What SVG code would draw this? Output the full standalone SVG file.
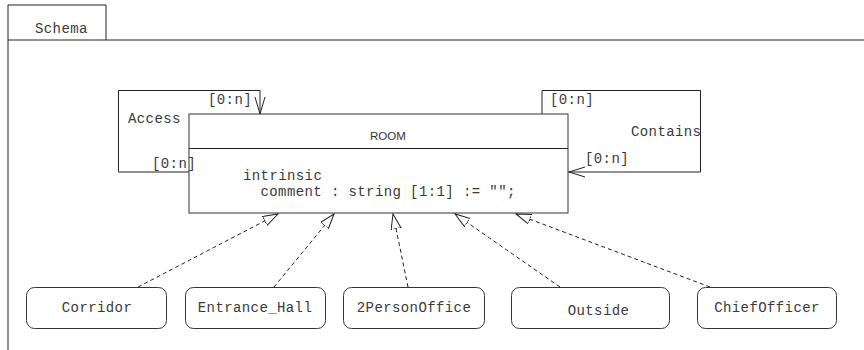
<svg xmlns="http://www.w3.org/2000/svg" width="864" height="350" viewBox="0 0 864 350">
  <style>
    .line { fill: none; stroke: #222; stroke-width: 1; }
    .box { fill: #fff; stroke: #333; stroke-width: 1; }
    .mono { font-family: "Liberation Mono", "Courier New", monospace; font-size: 14px; letter-spacing: 0.4px; fill: #3a3a3a; }
    .sans { font-family: "Liberation Sans", Arial, sans-serif; font-size: 11.5px; fill: #333; }
    .gen { fill: none; stroke: #222; stroke-width: 1; stroke-dasharray: 4 3; marker-end: url(#hollow); }
    .assoc { fill: none; stroke: #222; stroke-width: 1; }
    .mid { text-anchor: middle; }
  </style>
  <defs>
    <!-- hollow triangle for generalisation -->
    <marker id="hollow" markerUnits="userSpaceOnUse" markerWidth="18" markerHeight="12" refX="15" refY="5" orient="auto">
      <path d="M0,0 L15,5 L0,10 Z" fill="#fff" stroke="#222" stroke-width="1"/>
    </marker>
  </defs>

  <rect width="864" height="350" fill="#fff"/>

  <!-- schema frame with tab -->
  <g id="schema">
    <path class="line" d="M8,350 L8,5 L106,5 L106,40 M8,40 L864,40"/>
    <text class="mono" x="35" y="33">Schema</text>
  </g>

  <!-- ROOM entity -->
  <g id="room">
    <rect class="box" x="189" y="114" width="379" height="99"/>
    <line class="line" x1="189" y1="148.5" x2="568" y2="148.5"/>
    <text class="sans" x="370" y="140">ROOM</text>
    <text class="mono" x="243" y="180">intrinsic</text>
    <text class="mono" x="260.5" y="196">comment : string [1:1] := "";</text>
  </g>

  <g id="corridor">
    <rect class="box" x="26.5" y="287.5" width="140" height="41" rx="8"/>
    <text class="mono mid" x="97" y="312">Corridor</text>
  </g>
  <g id="entrance_hall">
    <rect class="box" x="185.5" y="287.5" width="140" height="41" rx="8"/>
    <text class="mono mid" x="255" y="312">Entrance_Hall</text>
  </g>
  <g id="two_person_office">
    <rect class="box" x="343.5" y="287.5" width="141" height="41" rx="8"/>
    <text class="mono mid" x="414" y="312">2PersonOffice</text>
  </g>
  <g id="outside">
    <rect class="box" x="511.5" y="287.5" width="158" height="41" rx="8"/>
    <text class="mono mid" x="598.5" y="315">Outside</text>
  </g>
  <g id="chief_officer">
    <rect class="box" x="697.5" y="287.5" width="139" height="41" rx="8"/>
    <text class="mono mid" x="767" y="312">ChiefOfficer</text>
  </g>

  <!-- connectors -->
  <g id="connectors">
    <!-- Access: self association -->
    <path class="assoc" d="M189,172 L118.5,172 L118.5,90.5 L260,90.5 L260,114"/>
    <path class="assoc" d="M255,97 L260,114 L265,97"/>
    <!-- Contains: self association -->
    <path class="assoc" d="M542,114 L542,90.5 L700.5,90.5 L700.5,172 L568,172"/>
    <path class="assoc" d="M585,167 L569,172 L585,177"/>

    <!-- generalisations -->
    <line class="gen" x1="138" y1="287" x2="278" y2="214"/>
    <line class="gen" x1="274" y1="287" x2="334" y2="214"/>
    <line class="gen" x1="408" y1="287" x2="393" y2="214"/>
    <line class="gen" x1="560" y1="287" x2="455" y2="214"/>
    <line class="gen" x1="710" y1="287" x2="516" y2="214"/>

    <text class="mono" x="128" y="123">Access</text>
    <text class="mono" x="208" y="104">[0:n]</text>
    <text class="mono" x="152" y="168">[0:n]</text>
    <text class="mono" x="550" y="104">[0:n]</text>
    <text class="mono" x="631" y="136">Contains</text>
    <text class="mono" x="585" y="163">[0:n]</text>
  </g>
</svg>
